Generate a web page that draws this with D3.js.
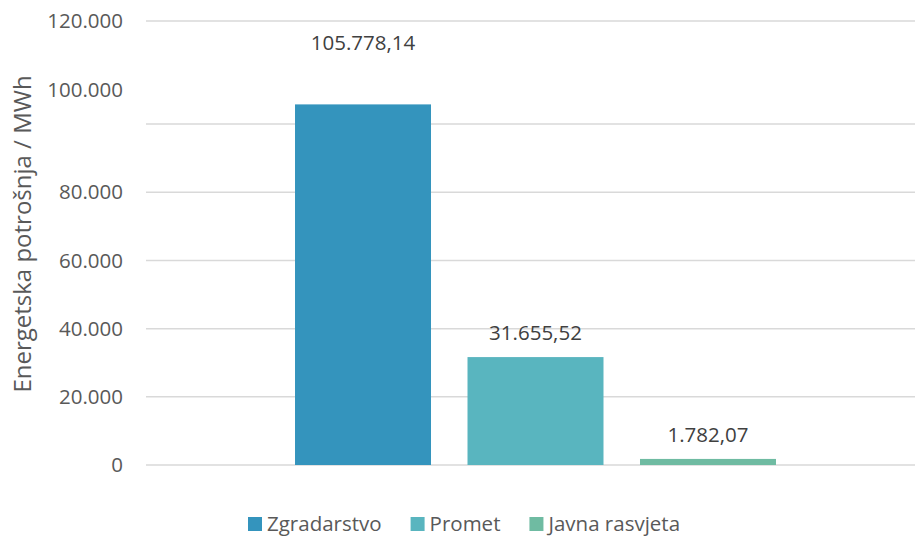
<!DOCTYPE html>
<html>
<head>
<meta charset="utf-8">
<script src="https://cdn.jsdelivr.net/npm/d3@7/dist/d3.min.js"></script>
<style>
  body { margin: 0; background: #fff; }
  text { font-family: "Open Sans", Lato, sans-serif; fill: #595959; }
</style>
</head>
<body>
<div id="chart"></div>
<script>
// Series (one category, three series)
const seriesNames = ["Zgradarstvo", "Promet", "Javna rasvjeta"];
const seriesValues = [105778.14, 31655.52, 1782.07];
const seriesColors = ["#3494bd", "#59b5bf", "#6fbba2"];
const valueLabels = ["105.778,14", "31.655,52", "1.782,07"];

// Axis: gridlines and tick labels (the top of the axis is compressed)
const gridValues = [0, 20000, 40000, 60000, 80000, 100000, 120000];
const tickLabels = ["0", "20.000", "40.000", "60.000", "80.000", "100.000", "120.000"];
const tickLabelValues = [0, 20000, 40000, 60000, 80000, 110000, 120000];
const yTitle = "Energetska potrošnja / MWh";

const W = 915, H = 538;
const plot = { left: 146, right: 925, top: 21, bottom: 465 };

const svg = d3.select("#chart").append("svg")
  .attr("width", W)
  .attr("height", H);

// Piecewise scale to mimic the broken upper part of the axis
const y = d3.scaleLinear()
  .domain([0, 110000, 120000])
  .range([plot.bottom, 90, plot.top]);

const x0 = d3.scaleBand()
  .domain(["all"])
  .range([plot.left, plot.right])
  .paddingInner(0)
  .paddingOuter(0.2527);

const x1 = d3.scaleBand()
  .domain(seriesNames)
  .range([0, x0.bandwidth()])
  .paddingInner(0.2116)
  .paddingOuter(0.1058);

// Gridlines
svg.append("g")
  .attr("class", "grid")
  .selectAll("line")
  .data(gridValues)
  .enter().append("line")
  .attr("x1", plot.left)
  .attr("x2", W)
  .attr("y1", d => y(d))
  .attr("y2", d => y(d))
  .style("stroke", "#d9d9d9")
  .style("stroke-width", 1.5);

// Tick labels
svg.append("g")
  .attr("class", "y-labels")
  .selectAll("text")
  .data(tickLabelValues)
  .enter().append("text")
  .attr("x", 123)
  .attr("y", d => y(d))
  .attr("dy", "0.35em")
  .attr("text-anchor", "end")
  .style("font-size", "20.5px")
  .text((d, i) => tickLabels[i]);

// Axis title
svg.append("text")
  .attr("transform", "translate(31, 234) rotate(-90)")
  .attr("text-anchor", "middle")
  .style("font-size", "24px")
  .text(yTitle);

// Bars
const barData = seriesNames.map((name, i) => ({
  name: name,
  value: seriesValues[i],
  color: seriesColors[i],
  label: valueLabels[i]
}));

const bars = svg.append("g")
  .attr("class", "bars")
  .attr("transform", `translate(${x0("all")}, 0)`);

bars.selectAll("rect")
  .data(barData)
  .enter().append("rect")
  .attr("x", d => x1(d.name))
  .attr("y", d => y(d.value))
  .attr("width", x1.bandwidth())
  .attr("height", d => y(0) - y(d.value))
  .style("fill", d => d.color);

// Data labels (the tall bar's label sits at the top of the broken axis)
bars.selectAll("text")
  .data(barData)
  .enter().append("text")
  .attr("x", d => x1(d.name) + x1.bandwidth() / 2)
  .attr("y", d => d.value > 100000 ? y(120000) + 22 : y(d.value) - 24)
  .attr("dy", "0.35em")
  .attr("text-anchor", "middle")
  .style("font-size", "20.5px")
  .style("fill", "#404040")
  .text(d => d.label);

// Legend
const legend = svg.append("g").attr("class", "legend");
let lx = 248;
barData.forEach(d => {
  legend.append("rect")
    .attr("x", lx)
    .attr("y", 517)
    .attr("width", 14)
    .attr("height", 14)
    .style("fill", d.color);
  const t = legend.append("text")
    .attr("x", lx + 19)
    .attr("y", 524)
    .attr("dy", "0.35em")
    .style("font-size", "20.5px")
    .text(d.name);
  lx += 19 + t.node().getComputedTextLength() + 29;
});
</script>
</body>
</html>
